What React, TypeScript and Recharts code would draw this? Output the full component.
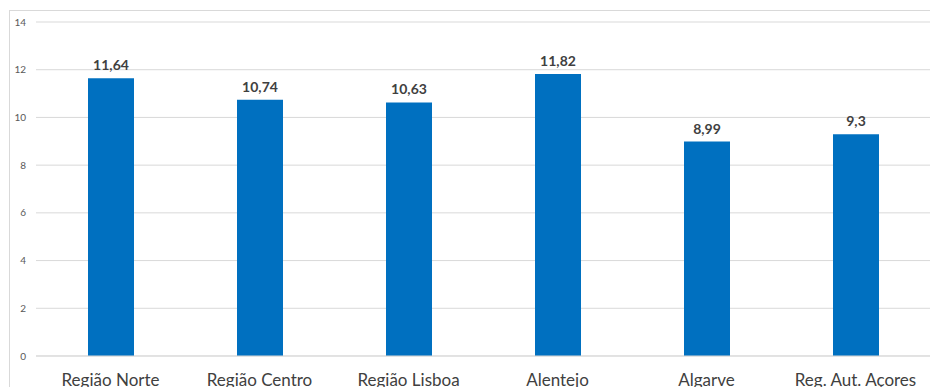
import { BarChart, Bar, XAxis, YAxis, CartesianGrid, LabelList } from "recharts";

const regions = ["Região Norte", "Região Centro", "Região Lisboa", "Alentejo", "Algarve", "Reg. Aut. Açores"];
const values = [11.64, 10.74, 10.63, 11.82, 8.99, 9.3];
const yTicks = [0, 2, 4, 6, 8, 10, 12, 14];

const data = regions.map((region, i) => ({ region, value: values[i] }));

const font = "Lato, 'Open Sans', sans-serif";

const App = () => {
  return (
    <div style={{ position: "fixed", left: 0, top: 0, width: 930, height: 387, overflow: "hidden", background: "#fff" }}>
      <div
        style={{
          position: "absolute",
          left: 9,
          top: 10,
          width: 1000,
          height: 500,
          border: "1px solid #d9d9d9",
        }}
      />
      <div style={{ position: "absolute", left: 0, top: 0 }}>
        <BarChart width={930} height={400} data={data} margin={{ top: 22, right: 0, bottom: 0, left: 0 }}>
          <CartesianGrid vertical={false} stroke="#d9d9d9" />
          <XAxis
            dataKey="region"
            axisLine={{ stroke: "#d9d9d9" }}
            tickLine={false}
            tickSize={0}
            tickMargin={18}
            height={44}
            interval={0}
            tick={{ fill: "#404040", fontSize: 17, fontFamily: font }}
          />
          <YAxis
            domain={[0, 14]}
            ticks={yTicks}
            width={36}
            axisLine={false}
            tickLine={false}
            tickSize={0}
            tickMargin={10}
            tick={{ fill: "#595959", fontSize: 10, fontFamily: font }}
          />
          <Bar dataKey="value" fill="#0070c0" barSize={46} isAnimationActive={false}>
            <LabelList
              dataKey="value"
              position="top"
              offset={8}
              formatter={(v: number) => String(v).replace(".", ",")}
              style={{ fill: "#404040", fontSize: 14, fontWeight: 700, fontFamily: font }}
            />
          </Bar>
        </BarChart>
      </div>
    </div>
  );
};

export default App;
